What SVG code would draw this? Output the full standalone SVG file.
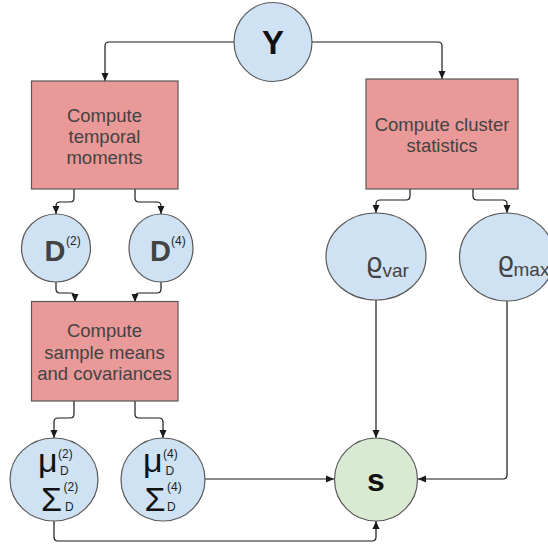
<svg xmlns="http://www.w3.org/2000/svg" width="548" height="545" viewBox="0 0 548 545">
<defs>
<marker id="arr" viewBox="0 0 8 8" refX="8" refY="4" markerWidth="8" markerHeight="8" markerUnits="userSpaceOnUse" orient="auto">
<path d="M0,0.5 L8,4 L0,7.5 z" fill="#1a1a1a"/>
</marker>
<style>
.box{fill:#ea9999;stroke:#595959;stroke-width:1.2}
.bn{fill:#cfe2f3;stroke:#595959;stroke-width:1.2}
.gn{fill:#d9ead3;stroke:#595959;stroke-width:1.2}
.bt{font-family:"Liberation Sans",Arial,sans-serif;font-size:18.5px;fill:#434343;text-anchor:middle}
.big{font-family:"Liberation Sans",Arial,sans-serif;font-weight:bold;fill:#111;text-anchor:middle}
.dt{font-family:"Liberation Sans",Arial,sans-serif;font-weight:bold;font-size:29px;fill:#434343}
.sm{font-family:"Liberation Sans",Arial,sans-serif;font-size:12px;fill:#222}
.gr{font-family:"Liberation Sans","DejaVu Sans",sans-serif;font-size:34px;fill:#111}
.rho{font-family:"DejaVu Sans",sans-serif;font-size:27px;fill:#434343}
.sub{font-family:"Liberation Sans",Arial,sans-serif;font-size:19px;fill:#434343}
.c{fill:none;stroke:#1a1a1a;stroke-width:1.2;marker-end:url(#arr)}
</style>
</defs>
<g id="connectors">
<path class="c" d="M234,42 H109 Q105,42 105,46 V81"/>
<path class="c" d="M312,42 H438 Q442,42 442,46 V79"/>
<path class="c" d="M74,189 V198 Q74,202 70,202 H60 Q56,202 56,206 V214"/>
<path class="c" d="M135,189 V198 Q135,202 139,202 H157 Q161,202 161,206 V214"/>
<path class="c" d="M410,189 V196 Q410,200 406,200 H380 Q376,200 376,204 V213"/>
<path class="c" d="M473,189 V196 Q473,200 477,200 H503 Q507,200 507,204 V213"/>
<path class="c" d="M56,282 V289 Q56,293 60,293 H71 Q75,293 75,297 V302"/>
<path class="c" d="M161,282 V289 Q161,293 157,293 H139 Q135,293 135,297 V302"/>
<path class="c" d="M74,401 V414 Q74,418 70,418 H58 Q54,418 54,422 V438"/>
<path class="c" d="M135,401 V414 Q135,418 139,418 H159 Q163,418 163,422 V438"/>
<path class="c" d="M205,479 H334"/>
<path class="c" d="M376,300 V438"/>
<path class="c" d="M507,301 V475 Q507,479 503,479 H418"/>
<path class="c" d="M54,521 V537 Q54,541 58,541 H372 Q376,541 376,537 V521"/>
</g>
<g id="Y">
<ellipse class="bn" cx="273" cy="42" rx="39" ry="39.5"/>
<text class="big" x="273" y="54" font-size="33">Y</text>
</g>
<g id="temporal">
<rect class="box" x="31.5" y="81" width="146.5" height="108"/>
<text class="bt" x="104.5" y="121.5">Compute</text>
<text class="bt" x="104.5" y="142.5">temporal</text>
<text class="bt" x="104.5" y="163.5">moments</text>
</g>
<g id="cluster">
<rect class="box" x="366" y="79" width="152" height="110"/>
<text class="bt" x="442" y="130.5">Compute cluster</text>
<text class="bt" x="442" y="151.5">statistics</text>
</g>
<g id="D2">
<ellipse class="bn" cx="56" cy="248" rx="34.5" ry="34"/>
<text class="dt" x="44.5" y="261">D</text>
<text class="sm" x="66" y="245" fill="#434343">(2)</text>
</g>
<g id="D4">
<ellipse class="bn" cx="161" cy="248" rx="32" ry="34"/>
<text class="dt" x="150" y="261">D</text>
<text class="sm" x="171" y="245" fill="#434343">(4)</text>
</g>
<g id="rhovar">
<ellipse class="bn" cx="376" cy="256.5" rx="50" ry="43.5"/>
<text class="rho" x="365.5" y="272">ϱ</text>
<text class="sub" x="382.5" y="277">var</text>
</g>
<g id="rhomax">
<ellipse class="bn" cx="507" cy="257" rx="47.5" ry="44"/>
<text class="rho" x="497" y="271">ϱ</text>
<text class="sub" x="513.5" y="276">max</text>
</g>
<g id="means">
<rect class="box" x="31.5" y="301.5" width="146.5" height="99.5"/>
<text class="bt" x="104.5" y="337">Compute</text>
<text class="bt" x="104.5" y="358.5">sample means</text>
<text class="bt" x="104.5" y="379.5">and covariances</text>
</g>
<g id="mu2">
<ellipse class="bn" cx="54" cy="479.5" rx="44" ry="41.5"/>
<text class="gr" x="38" y="472">μ</text>
<text class="sm" x="58" y="458">(2)</text>
<text class="sm" x="60" y="475">D</text>
<text class="gr" x="41" y="510.5">Σ</text>
<text class="sm" x="63.5" y="491">(2)</text>
<text class="sm" x="65" y="510.5">D</text>
</g>
<g id="mu4">
<ellipse class="bn" cx="163" cy="479.5" rx="42" ry="41.5"/>
<text class="gr" x="143" y="472">μ</text>
<text class="sm" x="163" y="458">(4)</text>
<text class="sm" x="165.5" y="475">D</text>
<text class="gr" x="144.5" y="510.5">Σ</text>
<text class="sm" x="167" y="491">(4)</text>
<text class="sm" x="167" y="510.5">D</text>
</g>
<g id="s">
<ellipse class="gn" cx="376" cy="479.5" rx="41.5" ry="41.5"/>
<text class="big" x="376" y="490.5" font-size="32">s</text>
</g>
</svg>
